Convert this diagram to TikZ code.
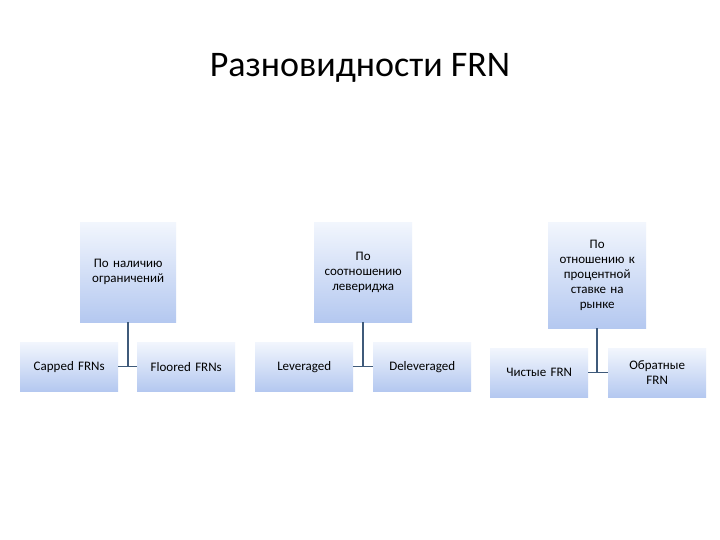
\documentclass[tikz,border=0pt]{standalone}
\usepackage{fontspec}
\setmainfont{Carlito}
\definecolor{topc}{HTML}{F2F6FD}
\definecolor{botc}{HTML}{B4C8F0}
\definecolor{linec}{HTML}{3F5A7A}
\begin{document}
\begin{tikzpicture}[x=1pt,y=-1pt,
 box/.style={top color=topc,bottom color=botc,draw=none,align=center,font=\fontsize{13}{15}\selectfont,inner sep=2pt,anchor=north west},
 conn/.style={draw=linec,line width=1.5pt}]
\useasboundingbox[fill=white] (0,0) rectangle (720,540);
\node at (360,68) {\fontsize{36}{40}\selectfont Разновидности FRN};
\newcommand\bx[6]{\node[box,minimum width=#3*1pt,minimum height=#4*1pt,text width=#3*1pt-6pt] (#5) at (#1,#2) {#6};}
\bx{80}{222}{96}{100}{p1}{По наличию\\ограничений}
\bx{20}{342}{98}{49}{c1}{Capped FRNs}
\bx{137}{342}{98}{49}{c2}{Floored FRNs}
\bx{314}{222}{98}{100}{p2}{По\\соотношению\\левериджа}
\bx{255}{342}{98}{49}{c3}{Leveraged}
\bx{373}{342}{98}{49}{c4}{Deleveraged}
\bx{548}{222}{98}{106}{p3}{По\\отношению к\\процентной\\ставке на\\рынке}
\bx{490}{348}{98}{49}{c5}{Чистые FRN}
\bx{608}{348}{98}{49}{c6}{Обратные\\FRN}
\foreach \p/\a/\b in {p1/c1/c2,p2/c3/c4,p3/c5/c6}{
 \draw[conn] (\p.south) -- (\p.south |- \a.east);
 \draw[conn] (\a.east) -- (\b.west);
}
\end{tikzpicture}
\end{document}
